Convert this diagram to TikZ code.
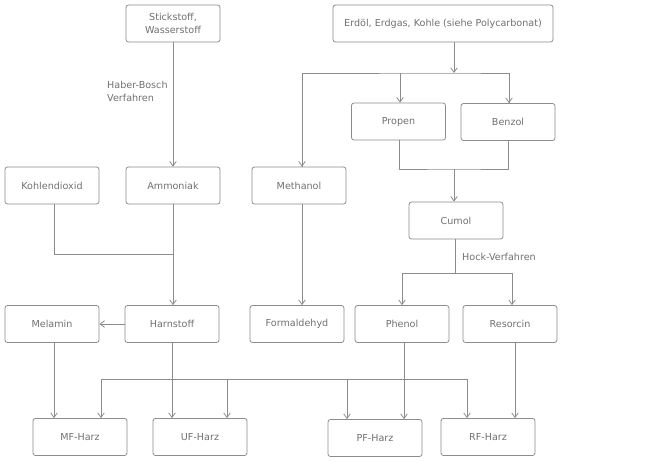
\documentclass[tikz,border=0pt]{standalone}
\usepackage{fontspec}
\setmainfont{DejaVu Sans}
\usetikzlibrary{arrows.meta}
\definecolor{ln}{HTML}{8C8C8C}
\definecolor{tx}{HTML}{707070}
\tikzset{
  box/.style={draw=ln, line width=0.8pt, rounded corners=2.5pt, minimum width=94pt, minimum height=37pt, inner sep=1pt, text=tx, font=\fontsize{9.6}{12.5}\selectfont, align=center},
  conn/.style={draw=ln, line width=0.8pt},
  arr/.style={conn, -{Straight Barb[length=4.5pt,width=6.5pt]}},
  lbl/.style={text=tx, font=\fontsize{9.6}{13}\selectfont, align=left, anchor=west, inner sep=0pt}
}
\begin{document}
\begin{tikzpicture}[x=1pt,y=-1pt]
\useasboundingbox (0,0) rectangle (660,461);
\node[box] (stick) at (173,23.5) {Stickstoff,\\Wasserstoff};
\node[box, minimum width=220pt] (erd) at (443,23.5) {Erdöl, Erdgas, Kohle (siehe Polycarbonat)};
\node[box] (propen) at (398.5,121.5) {Propen};
\node[box] (benzol) at (508,122) {Benzol};
\node[box] (kohlen) at (52,185.5) {Kohlendioxid};
\node[box] (ammoniak) at (173,185.5) {Ammoniak};
\node[box] (methanol) at (299,185.5) {Methanol};
\node[box] (cumol) at (456,220.5) {Cumol};
\node[box] (melamin) at (52,324) {Melamin};
\node[box] (harnstoff) at (172,324) {Harnstoff};
\node[box] (formal) at (297,324) {Formaldehyd};
\node[box] (phenol) at (402,324) {Phenol};
\node[box] (resorcin) at (510,324) {Resorcin};
\node[box] (mf) at (80,437) {MF-Harz};
\node[box] (uf) at (200,437) {UF-Harz};
\node[box] (pf) at (375,438) {PF-Harz};
\node[box] (rf) at (488,437) {RF-Harz};
\node[lbl] (hb) at (107,91.5) {Haber-Bosch\\Verfahren};
\node[lbl] (hock) at (462,257) {Hock-Verfahren};
% junctions
\coordinate (j1) at (454,73);
\coordinate (j2) at (454,169);
\coordinate (j3) at (455,273);
\coordinate (j4) at (173,254);
\coordinate (busL) at (101,379);
\coordinate (busR) at (467,379);
% connectors
\draw[arr] (stick.south) -- (ammoniak.north);
\draw[arr] (erd.south -| j1) -- (j1);
\draw[conn] (methanol.north -| 302,0) |- (j1) -| (benzol.north -| 509,0);
\draw[arr] (302,73) -- (methanol.north -| 302,0);
\draw[arr] (400,73) -- (propen.north -| 400,0);
\draw[arr] (509,73) -- (benzol.north -| 509,0);
\draw[conn] (propen.south -| 399,0) |- (j2) -| (benzol.south -| 508,0);
\draw[arr] (j2) -- (cumol.north -| j2);
\draw[conn] (cumol.south -| j3) -- (j3);
\draw[conn] (402,273) -- (512,273);
\draw[arr] (402,273) -- (phenol.north -| 402,0);
\draw[arr] (512,273) -- (resorcin.north -| 512,0);
\draw[conn] (kohlen.south -| 54,0) |- (j4);
\draw[arr] (ammoniak.south) -- (harnstoff.north -| ammoniak.south);
\draw[arr] (harnstoff.west) -- (melamin.east);
\draw[arr] (methanol.south -| 302,0) -- (formal.north -| 302,0);
\draw[arr] (melamin.south -| 54,0) -- (mf.north -| 54,0);
\draw[arr] (harnstoff.south -| 172,0) -- (uf.north -| 172,0);
\draw[conn] (busL) -- (busR);
\draw[arr] (busL) -- (mf.north -| busL);
\draw[arr] (227,379) -- (uf.north -| 227,0);
\draw[arr] (347,379) -- (pf.north -| 347,0);
\draw[arr] (busR) -- (rf.north -| busR);
\draw[arr] (phenol.south -| 404,0) -- (pf.north -| 404,0);
\draw[arr] (resorcin.south -| 515,0) -- (rf.north -| 515,0);
\end{tikzpicture}
\end{document}
